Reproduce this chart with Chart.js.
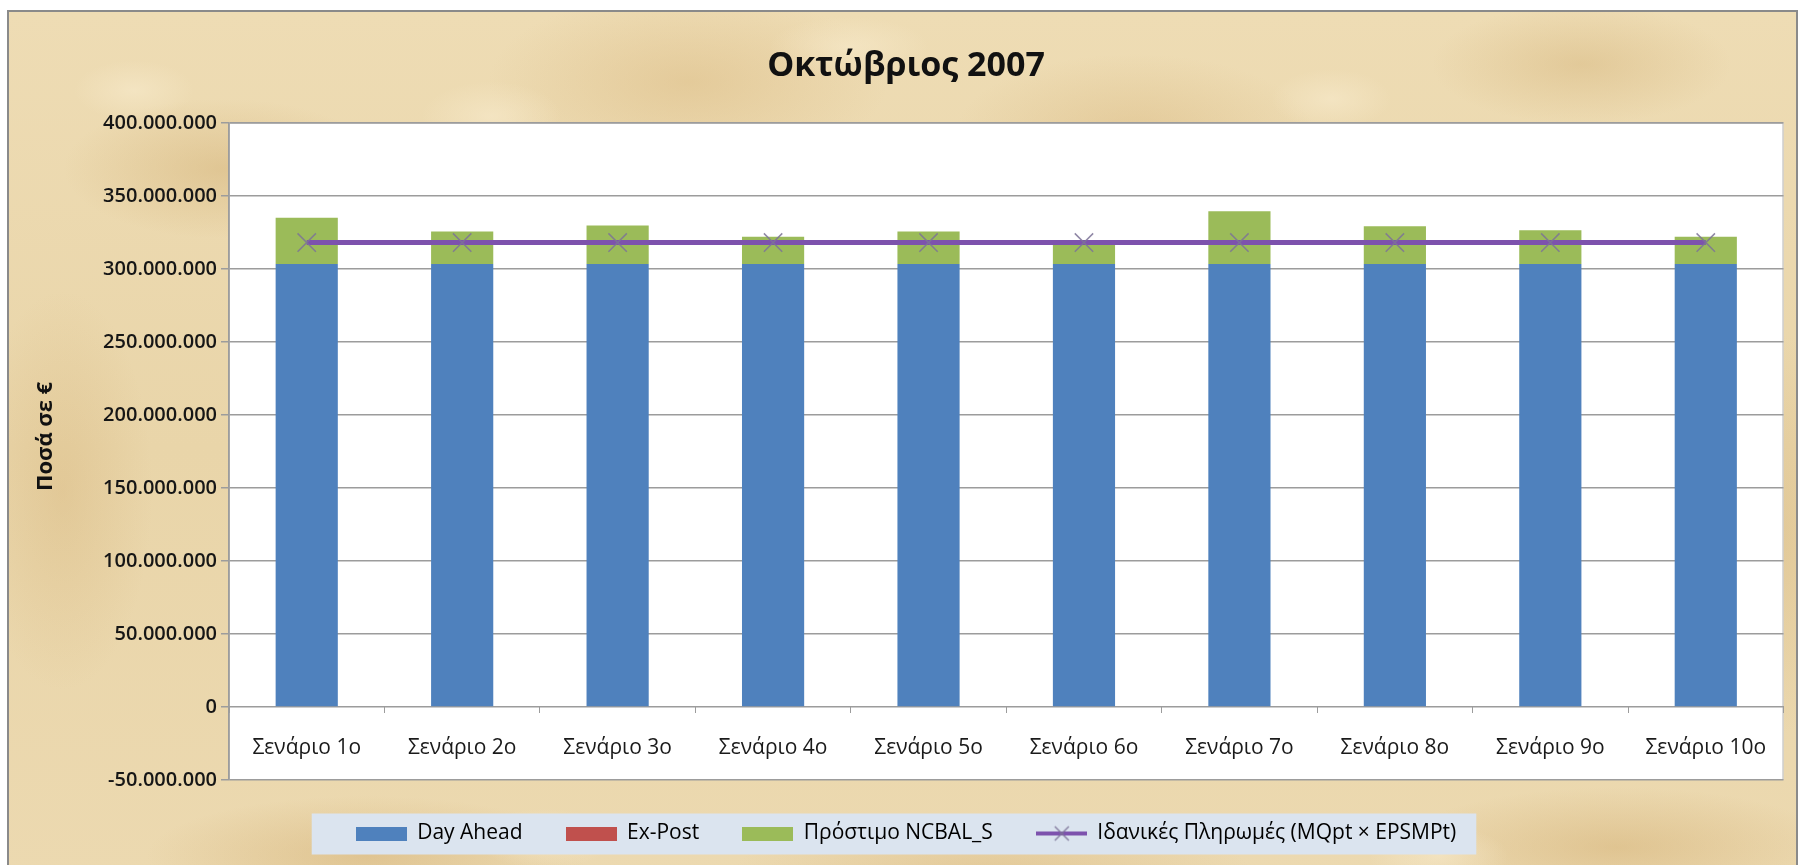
<!DOCTYPE html>
<html lang="el">
<head>
<meta charset="utf-8">
<title>Οκτώβριος 2007</title>
<script src="https://cdn.jsdelivr.net/npm/chart.js@4.4.1/dist/chart.umd.min.js"></script>
<style>
  html, body {
    margin: 0;
    padding: 0;
    background: #ffffff;
  }
  body {
    width: 1798px;
    height: 865px;
    overflow: hidden;
    position: relative;
  }
  #frame {
    position: absolute;
    left: 7px;
    top: 10px;
    width: 1787px;
    height: 870px;
    border: 2px solid #8a8a8a;
    background-color: #ead8af;
    background-image:
      radial-gradient(ellipse 60px 30px at 7% 9%, rgba(246, 232, 200, 0.7), rgba(246, 232, 200, 0) 100%),
      radial-gradient(ellipse 70px 35px at 27% 12%, rgba(246, 232, 200, 0.7), rgba(246, 232, 200, 0) 100%),
      radial-gradient(ellipse 80px 30px at 47% 4%, rgba(246, 232, 200, 0.7), rgba(246, 232, 200, 0) 100%),
      radial-gradient(ellipse 60px 30px at 74% 10%, rgba(246, 232, 200, 0.7), rgba(246, 232, 200, 0) 100%),
      radial-gradient(ellipse 70px 30px at 30% 95%, rgba(246, 232, 200, 0.7), rgba(246, 232, 200, 0) 100%),
      radial-gradient(ellipse 70px 30px at 80% 97%, rgba(246, 232, 200, 0.7), rgba(246, 232, 200, 0) 100%),
      radial-gradient(ellipse 160px 70px at 12% 18%, rgba(205, 168, 105, 0.4), rgba(205, 168, 105, 0) 100%),
      radial-gradient(ellipse 200px 90px at 38% 8%, rgba(214, 178, 118, 0.4), rgba(214, 178, 118, 0) 100%),
      radial-gradient(ellipse 180px 80px at 63% 14%, rgba(210, 172, 110, 0.35), rgba(210, 172, 110, 0) 100%),
      radial-gradient(ellipse 150px 60px at 88% 6%, rgba(205, 168, 105, 0.35), rgba(205, 168, 105, 0) 100%),
      radial-gradient(ellipse 90px 200px at 3% 55%, rgba(208, 170, 108, 0.3), rgba(208, 170, 108, 0) 100%),
      radial-gradient(ellipse 80px 200px at 99% 60%, rgba(208, 170, 108, 0.3), rgba(208, 170, 108, 0) 100%),
      radial-gradient(ellipse 220px 60px at 20% 97%, rgba(205, 165, 100, 0.4), rgba(205, 165, 100, 0) 100%),
      radial-gradient(ellipse 260px 60px at 55% 99%, rgba(210, 172, 110, 0.35), rgba(210, 172, 110, 0) 100%),
      radial-gradient(ellipse 220px 60px at 90% 96%, rgba(205, 165, 100, 0.4), rgba(205, 165, 100, 0) 100%),
      linear-gradient(180deg, #eedcb4 0%, #e9d5a9 50%, #ecd9b0 100%);
  }
  #chart {
    position: absolute;
    left: 0;
    top: 0;
  }
</style>
</head>
<body>
<div id="frame"></div>
<canvas id="chart" width="1798" height="865"></canvas>
<script>
  const scenarioLabels = [
    "Σενάριο 1ο", "Σενάριο 2ο", "Σενάριο 3ο", "Σενάριο 4ο", "Σενάριο 5ο",
    "Σενάριο 6ο", "Σενάριο 7ο", "Σενάριο 8ο", "Σενάριο 9ο", "Σενάριο 10ο",
  ];
  const dayAhead = [
    303400000, 303400000, 303400000, 303400000, 303400000,
    303400000, 303400000, 303400000, 303400000, 303400000,
  ];
  const exPost = [0, 0, 0, 0, 0, 0, 0, 0, 0, 0];
  const penaltyNcbal = [
    31600000, 22100000, 26300000, 18600000, 22100000,
    13000000, 36000000, 25700000, 23000000, 18600000,
  ];
  const idealPayments = [
    318000000, 318000000, 318000000, 318000000, 318000000,
    318000000, 318000000, 318000000, 318000000, 318000000,
  ];
  const yTickValues = [
    -50000000, 0, 50000000, 100000000, 150000000,
    200000000, 250000000, 300000000, 350000000, 400000000,
  ];
  const seriesNames = ["Day Ahead", "Ex-Post", "Πρόστιμο NCBAL_S", "Ιδανικές Πληρωμές (MQpt × EPSMPt)"];
  const yAxisTitle = "Ποσά σε €";

  const BLUE = "#4f81bd";
  const RED = "#c0504d";
  const GREEN = "#9bbb59";
  const PURPLE = "#7d52ad";
  const MARKER = "rgba(125, 115, 150, 0.85)";
  const GRID = "#9c9c9c";
  const TEXT = "#1a1a1a";
  const FONT = "'Open Sans', 'DejaVu Sans', sans-serif";

  Chart.defaults.font.family = FONT;
  Chart.defaults.color = TEXT;

  function formatAmount(value) {
    const sign = value < 0 ? "-" : "";
    const digits = String(Math.abs(Math.round(value)));
    return sign + digits.replace(/\B(?=(\d{3})+(?!\d))/g, ".");
  }

  function boxIcon(color) {
    const c = document.createElement("canvas");
    c.width = 51;
    c.height = 14;
    const ctx = c.getContext("2d");
    ctx.fillStyle = color;
    ctx.fillRect(0, 0, 51, 14);
    return c;
  }

  function lineIcon() {
    const c = document.createElement("canvas");
    c.width = 51;
    c.height = 20;
    const ctx = c.getContext("2d");
    ctx.strokeStyle = PURPLE;
    ctx.lineWidth = 4;
    ctx.beginPath();
    ctx.moveTo(0, 10);
    ctx.lineTo(51, 10);
    ctx.stroke();
    ctx.strokeStyle = MARKER;
    ctx.lineWidth = 1.5;
    ctx.beginPath();
    ctx.moveTo(19, 3);
    ctx.lineTo(33, 17);
    ctx.moveTo(33, 3);
    ctx.lineTo(19, 17);
    ctx.stroke();
    return c;
  }

  const legendIcons = [boxIcon(BLUE), boxIcon(RED), boxIcon(GREEN), lineIcon()];

  // white plot area + pale blue legend strip, drawn under everything else
  const backdrop = {
    id: "backdrop",
    beforeDraw(chart) {
      const { ctx, chartArea } = chart;
      ctx.save();
      ctx.fillStyle = "#ffffff";
      ctx.fillRect(chartArea.left, chartArea.top, chartArea.right - chartArea.left, chartArea.bottom - chartArea.top);
      ctx.strokeStyle = "#b5b5b5";
      ctx.lineWidth = 1;
      ctx.strokeRect(chartArea.left + 0.5, chartArea.top + 0.5, chartArea.right - chartArea.left - 1, chartArea.bottom - chartArea.top - 1);

      const boxes = chart.legend && chart.legend.legendHitBoxes;
      if (boxes && boxes.length) {
        const first = boxes[0];
        const last = boxes[boxes.length - 1];
        const left = first.left - 44;
        const right = last.left + last.width + 20;
        const mid = first.top + first.height / 2;
        ctx.fillStyle = "#dbe4ef";
        ctx.fillRect(left, mid - 20, right - left, 41);
      }
      ctx.restore();
    },
    // axis title sits a bit above the plot's middle, as in the original
    afterDraw(chart) {
      const { ctx, chartArea } = chart;
      ctx.save();
      ctx.translate(46, (chartArea.top + chartArea.bottom) / 2 - 15);
      ctx.rotate(-Math.PI / 2);
      ctx.font = "bold 22px " + FONT;
      ctx.fillStyle = "#111";
      ctx.textAlign = "center";
      ctx.textBaseline = "middle";
      ctx.fillText(yAxisTitle, 0, 0);
      ctx.restore();
    },
  };

  new Chart(document.getElementById("chart"), {
    type: "bar",
    data: {
      labels: scenarioLabels,
      datasets: [
        { label: seriesNames[0], data: dayAhead, backgroundColor: BLUE, order: 1 },
        { label: seriesNames[1], data: exPost, backgroundColor: RED, order: 1 },
        { label: seriesNames[2], data: penaltyNcbal, backgroundColor: GREEN, order: 1 },
        {
          type: "line",
          label: seriesNames[3],
          data: idealPayments,
          stack: "ideal",
          order: 0,
          borderColor: PURPLE,
          borderWidth: 5,
          backgroundColor: PURPLE,
          pointStyle: "crossRot",
          pointRadius: 13,
          pointBorderColor: MARKER,
          pointBorderWidth: 1.5,
          tension: 0,
          fill: false,
        },
      ],
    },
    options: {
      responsive: false,
      animation: false,
      events: [],
      layout: { padding: { left: 22, right: 8, top: 0, bottom: 11 } },
      datasets: {
        bar: { barPercentage: 0.4, categoryPercentage: 1.0 },
      },
      scales: {
        x: {
          type: "category",
          stacked: true,
          position: { y: 0 },
          offset: true,
          grid: { offset: true, drawOnChartArea: false, drawTicks: true, tickLength: 6, color: GRID },
          border: { display: true, color: GRID, width: 1 },
          ticks: { font: { size: 21 }, color: TEXT, padding: 22, maxRotation: 0, autoSkip: false },
        },
        y: {
          stacked: true,
          min: yTickValues[0],
          max: yTickValues[yTickValues.length - 1],
          afterBuildTicks(scale) {
            scale.ticks = yTickValues.map((v) => ({ value: v }));
          },
          afterFit(scale) {
            scale.width = 207;
          },
          grid: { color: GRID, lineWidth: 1.5, drawTicks: true, tickLength: 8 },
          border: { display: true, color: GRID, width: 1.5 },
          ticks: {
            font: { size: 20, weight: "600" },
            color: "#161616",
            padding: 4,
            callback: (value) => formatAmount(value),
          },
          title: { display: false },
        },
      },
      plugins: {
        title: {
          display: true,
          text: "Οκτώβριος 2007",
          font: { size: 34, weight: "bold" },
          color: "#111",
          padding: { top: 46, bottom: 36 },
        },
        legend: {
          display: true,
          position: "bottom",
          labels: {
            usePointStyle: true,
            pointStyleWidth: 51,
            boxHeight: 14,
            padding: 43,
            color: TEXT,
            font: { size: 21 },
            generateLabels: (chart) =>
              chart.data.datasets.map((ds, i) => ({
                text: ds.label,
                pointStyle: legendIcons[i],
                fillStyle: "transparent",
                strokeStyle: "transparent",
                lineWidth: 0,
                hidden: false,
                datasetIndex: i,
              })),
          },
        },
        tooltip: { enabled: false },
      },
    },
    plugins: [backdrop],
  });
</script>
</body>
</html>
